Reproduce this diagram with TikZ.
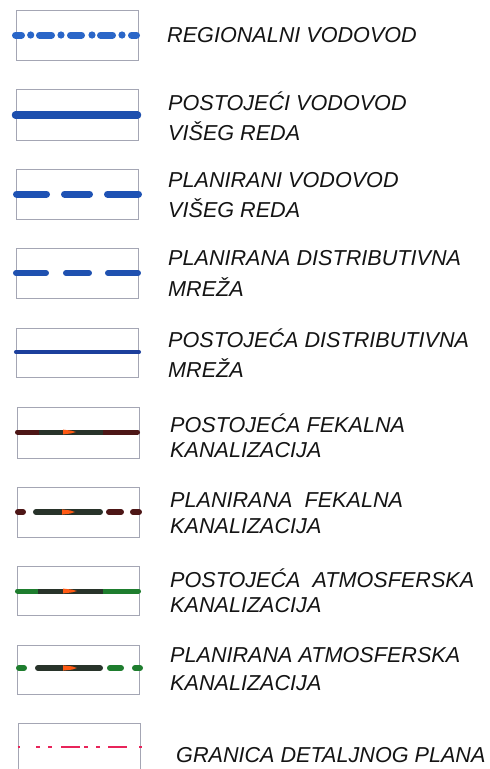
\documentclass[tikz,border=0pt]{standalone}
\usepackage{fontspec}
\setmainfont{Liberation Sans}
\definecolor{framecol}{HTML}{A4A6B4}
\definecolor{textcol}{HTML}{141414}
\definecolor{regblue}{HTML}{2A66C8}
\definecolor{blueA}{HTML}{1D4FAE}
\definecolor{blueB}{HTML}{1E52B4}
\definecolor{blueC}{HTML}{1F51B0}
\definecolor{blueD}{HTML}{1C3F9C}
\definecolor{maroon}{HTML}{4D1616}
\definecolor{darkmid}{HTML}{28332A}
\definecolor{greenline}{HTML}{1E7D2E}
\definecolor{orangearr}{HTML}{FF5A14}
\definecolor{pinkred}{HTML}{E8245A}
\begin{document}
\begin{tikzpicture}[x=1pt,y=-1pt,
  frame/.style={draw=framecol, line width=0.8pt},
  lbl/.style={font=\itshape\fontsize{21.6}{25}\selectfont, inner sep=0pt, anchor=base west, text=textcol},
  pipe/.style={line cap=round, line width=#1},
  flatpipe/.style={line cap=butt, line width=#1},
  arrowmark/.style={fill=orangearr, draw=none}]
\useasboundingbox (0,0) rectangle (490,769);
\clip (0,0) rectangle (490,769);
\fill[white] (0,0) rectangle (490,769);

% frames
\draw[frame] (16,10) rectangle (138,60);
\draw[frame] (16,89) rectangle (138,140);
\draw[frame] (16,169) rectangle (138,219);
\draw[frame] (16,248) rectangle (138,298);
\draw[frame] (16,328) rectangle (138,377);
\draw[frame] (17,407) rectangle (139,458);
\draw[frame] (17,487) rectangle (139,537);
\draw[frame] (17,566) rectangle (139,615);
\draw[frame] (17,645) rectangle (139,694);
\draw[frame] (18,723) rectangle (140,780);

% 1 regional (dash-dot)
\foreach \a/\b in {15.5/21.5, 39.5/51.5, 70.5/81.5, 100.5/112.5, 131.5/136.5}
  \draw[pipe=7pt, regblue] (\a,35) -- (\b,35);
\foreach \c in {30.7, 61, 92, 122}
  \fill[regblue] (\c,35) circle (3.6);

% 2 existing higher order
\draw[pipe=7.5pt, blueA] (15.5,115) -- (137.5,115);

% 3 planned higher order
\foreach \a/\b in {16.5/46.5, 64.5/89.5, 107.5/138.5}
  \draw[pipe=7pt, blueB] (\a,194) -- (\b,194);

% 4 planned distribution
\foreach \a/\b in {15.8/46.2, 65.8/89.2, 107.8/138.2}
  \draw[pipe=5.5pt, blueC] (\a,273) -- (\b,273);

% 5 existing distribution
\draw[pipe=4.5pt, blueD] (16.2,352) -- (138.8,352);

% 6 existing sewage
\draw[pipe=5pt, maroon] (17.5,432) -- (137.5,432);
\draw[flatpipe=5pt, darkmid] (39,432) -- (103,432);
\fill[arrowmark] (63,429.6) -- (71,430.6) -- (76,432) -- (71,433.4) -- (63,434.4) -- cycle;

% 7 planned sewage
\foreach \a/\b in {17.8/23.2, 108.8/121.2, 132.8/139.2}
  \draw[pipe=5.5pt, maroon] (\a,512) -- (\b,512);
\draw[pipe=5.5pt, darkmid] (35.8,512) -- (100.2,512);
\fill[arrowmark] (62,509.4) -- (70,510.4) -- (75,512) -- (70,513.6) -- (62,514.6) -- cycle;

% 8 existing storm
\draw[pipe=5pt, greenline] (17.5,591) -- (138.5,591);
\draw[flatpipe=5pt, darkmid] (38,591) -- (103,591);
\fill[arrowmark] (63,588.6) -- (72,589.6) -- (77,591) -- (72,592.4) -- (63,593.4) -- cycle;

% 9 planned storm
\foreach \a/\b in {19/24, 110/121, 135/140}
  \draw[pipe=6pt, greenline] (\a,668) -- (\b,668);
\draw[pipe=6pt, darkmid] (38,668) -- (100,668);
\fill[arrowmark] (63,665.4) -- (72,666.4) -- (77,668) -- (72,669.6) -- (63,670.6) -- cycle;

% 10 plan boundary
\foreach \a/\b in {17.5/19.5, 36/40, 48/52, 61/80, 84/87.5, 96/99.5, 108/127, 139/142}
  \draw[flatpipe=2.6pt, pinkred] (\a,747) -- (\b,747);

% labels
\node[lbl] (t1) at (167,42) {REGIONALNI VODOVOD};
\node[lbl] (t2a) at (168,110) {POSTOJEĆI VODOVOD};
\node[lbl] (t2b) at (168,140) {VIŠEG REDA};
\node[lbl] (t3a) at (168,187) {PLANIRANI VODOVOD};
\node[lbl] (t3b) at (168,217) {VIŠEG REDA};
\node[lbl] (t4a) at (168,265) {PLANIRANA DISTRIBUTIVNA};
\node[lbl] (t4b) at (168,296) {MREŽA};
\node[lbl] (t5a) at (168,347) {POSTOJEĆA DISTRIBUTIVNA};
\node[lbl] (t5b) at (168,377) {MREŽA};
\node[lbl] (t6a) at (170,432) {POSTOJEĆA FEKALNA};
\node[lbl] (t6b) at (170,457) {KANALIZACIJA};
\node[lbl] (t7a) at (170,507) {PLANIRANA\ \ FEKALNA};
\node[lbl] (t7b) at (170,533) {KANALIZACIJA};
\node[lbl] (t8a) at (170,587) {POSTOJEĆA\ \ ATMOSFERSKA};
\node[lbl] (t8b) at (170,612) {KANALIZACIJA};
\node[lbl] (t9a) at (170,662) {PLANIRANA ATMOSFERSKA};
\node[lbl] (t9b) at (170,690) {KANALIZACIJA};
\node[lbl] (t10) at (176,762) {GRANICA DETALJNOG PLANA};
\end{tikzpicture}
\end{document}
